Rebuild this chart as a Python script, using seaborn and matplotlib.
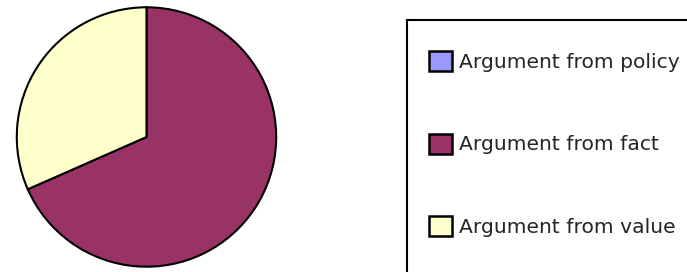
import matplotlib
matplotlib.use("Agg")
import matplotlib.pyplot as plt
import seaborn as sns
from matplotlib.patches import Patch, Rectangle

# Données
categories = ["Argument from policy", "Argument from fact", "Argument from value"]
values = [0, 68.4, 31.6]
colors = ["#9999FF", "#993366", "#FFFFCC"]

sns.set_style("white")
plt.rcParams['font.family'] = ['DejaVu Sans']

fig = plt.figure(figsize=(6.87, 2.72), dpi=100)
ax = fig.add_axes([15.5 / 687, 4 / 272, 262 / 687, 262 / 272])

ax.pie(values, colors=colors, startangle=90, counterclock=False,
       wedgeprops={"edgecolor": "black", "linewidth": 1.5})
ax.set_xlim(-1.01, 1.01)
ax.set_ylim(-1.01, 1.01)
ax.set_aspect("equal")
ax.axis("off")

# Cadre de la légende (dépasse du bord de l'image)
fig.patches.append(Rectangle((407 / 687, -0.1), 0.5, (272 - 20) / 272 + 0.1,
                             transform=fig.transFigure, facecolor="white",
                             edgecolor="black", linewidth=1.5, zorder=0))

handles = [Patch(facecolor=c, edgecolor="black", linewidth=1.8) for c in colors]
fig.legend(handles, categories, loc="upper left",
           bbox_to_anchor=(429 / 687, (272 - 51) / 272),
           frameon=False, fontsize=14.6, handlelength=1.13, handleheight=1.13,
           handletextpad=0.34, labelspacing=3.05, borderpad=0, borderaxespad=0)

plt.savefig("out.png", dpi=100)
